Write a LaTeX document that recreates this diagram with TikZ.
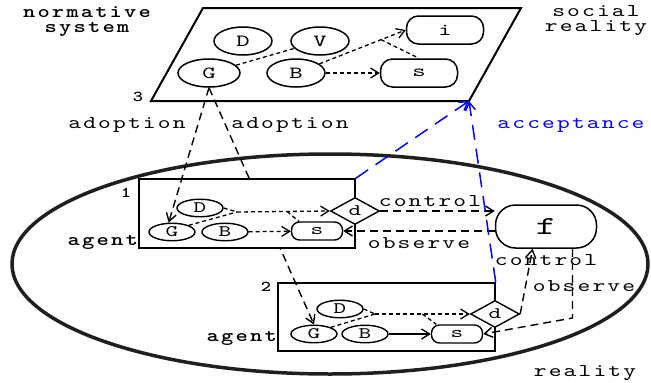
\documentclass[tikz,border=0pt]{standalone}
\usepackage{fontspec}
\newfontfamily\cour{lmmono10-regular}[Extension=.otf, FakeStretch=1.35, LetterSpace=12]
\newfontfamily\courbf{lmmonolt10-bold}[Extension=.otf, FakeStretch=1.3, LetterSpace=12]
\newfontfamily\courltr{lmmono10-regular}[Extension=.otf, FakeStretch=1.5]
\usetikzlibrary{shapes.geometric,arrows.meta,calc}
\begin{document}
\begin{tikzpicture}[x=1pt,y=-1pt,
  every node/.style={inner sep=0pt},
  txt/.style={font=\fontsize{18}{20}\cour, anchor=base},
  btxt/.style={font=\fontsize{18}{20}\courbf, anchor=base},
  twoline/.style={align=center, anchor=north},
  numtxt/.style={font=\fontsize{15}{17}\courbf, anchor=base},
  nstate/.style={ellipse, draw, line width=1.5pt, fill=white, minimum width=58pt, minimum height=28pt, font=\fontsize{17}{19}\courltr},
  astate/.style={ellipse, draw, line width=1.4pt, fill=white, minimum width=46pt, minimum height=17.5pt, font=\fontsize{16}{18}\courltr},
  fact/.style={draw, rounded corners=12pt, line width=1.5pt, fill=white, minimum width=77pt, minimum height=28pt, font=\fontsize{17}{19}\courltr},
  afact/.style={draw, rounded corners=8pt, line width=1.4pt, fill=white, minimum width=51pt, minimum height=18pt, font=\fontsize{16}{18}\courltr},
  decide/.style={diamond, draw, line width=1.4pt, fill=white, minimum width=49pt, minimum height=27pt, font=\fontsize{16}{18}\courltr},
  agentbox/.style={draw, line width=1.5pt, fill=white},
  arr/.style={-{Straight Barb[length=8pt,width=10pt]}},
  relation/.style={line width=1.4pt, dash pattern=on 8pt off 5pt},
  influence/.style={line width=1.3pt, dash pattern=on 4pt off 3pt},
  accept/.style={line width=1.5pt, blue, dash pattern=on 15pt off 9pt}
]
\useasboundingbox (0,0) rectangle (651,383);

% reality
\draw[line width=3.5pt, black!88] (330,264) ellipse [x radius=318, y radius=110];

% normative system (social reality)
\coordinate (pTL) at (203,8);
\coordinate (pTR) at (521,8);
\coordinate (pBR) at (469,101);
\coordinate (pBL) at (151,101);
\draw[line width=2pt] (pTL) -- (pTR) -- (pBR) -- (pBL) -- cycle;

\node[nstate] (nD) at (243,41) {D};
\node[nstate] (nV) at (320,41) {V};
\node[nstate, minimum width=62pt] (nG) at (209,73) {G};
\node[nstate] (nB) at (296,73) {B};
\node[fact] (ni) at (445,30) {i};
\node[fact] (ns) at (419,73) {s};

\draw[influence] (nG) -- (nV);
\draw[influence, arr] (nB) -- (ni.west);
\draw[influence] ($(nB)!0.775!(ni.west)$) -- (ns.north);
\draw[influence, arr] (nB) -- (ns);

% agent 2
\node[agentbox, minimum width=217pt, minimum height=68pt] (a2) at (386.5,317) {};
\node[astate] (D2) at (340,309) {D};
\node[astate] (G2) at (314,334) {G};
\node[astate] (B2) at (365,334) {B};
\node[afact] (s2) at (457,334) {s};
\node[decide] (d2) at (495,314) {d};
\coordinate (j2) at (375,314);
\draw[influence] (D2.east) -- (j2);
\draw[influence] (G2.north east) -- (j2);
\draw[influence, arr] (j2) -- (d2.west);
\draw[influence] ($(j2)!0.5!(d2.west)$) -- (s2.155);
\draw[line width=1.4pt, arr] (B2) -- (s2);

% adoption towards agent 2 (passes behind agent 1)
\draw[relation, arr] (nG.south) -- (G2.north);

% agent 1
\node[agentbox, minimum width=216pt, minimum height=69pt] (a1) at (247,213.5) {};
\node[astate] (D1) at (200,208) {D};
\node[astate] (G1) at (172,232) {G};
\node[astate] (B1) at (225,232) {B};
\node[afact] (s1) at (317,231) {s};
\node[decide] (d1) at (355,211) {d};
\coordinate (j1) at (237,212);
\draw[influence] (D1.east) -- (j1);
\draw[influence] (G1.north east) -- (j1);
\draw[influence, arr] (j1) -- (d1.west);
\draw[influence] ($(j1)!0.54!(d1.west)$) -- (s1.152);
\draw[influence, arr] (B1) -- (s1);

% adoption towards agent 1
\draw[relation, arr] (nG.south) -- (G1.110);

% the fact f
\node[draw, rounded corners=20pt, line width=1.5pt, fill=white, minimum width=101pt, minimum height=43pt, font=\fontsize{26}{28}\courltr] (f) at (546,226.5) {f};

\draw[relation, arr] (d1.east) -- (d1.east -| f.west);
\draw[relation, arr] (f.west |- s1.east) -- (s1.east);
\draw[relation, arr] (d2.east) -- (f.239);
\coordinate (obsBend) at (572,318);
\draw[relation, arr] (f.320) -- (f.320 |- obsBend) -- (s2.east);

% acceptance
\draw[accept, arr] (a1.north east) -- (pBR);
\draw[accept, arr] (a2.north east) -- (pBR);

% labels
\node[btxt, twoline, font=\fontsize{18}{15.5}\courbf] (tNorm) at (87,6) {normative\\system};
\node[txt, twoline, font=\fontsize{18}{15.5}\cour] (tSoc) at (596,5) {social\\reality};
\node[numtxt] (t3) at (138,101) {3};
\node[txt] (tAdL) at (127,128) {adoption};
\node[txt] (tAdR) at (290,128) {adoption};
\node[txt, blue] (tAcc) at (571,128) {acceptance};
\node[numtxt] (t1) at (126,197) {1};
\node[btxt, anchor=base east] (tAg1) at (138,245) {agent};
\node[numtxt] (t2) at (266,291) {2};
\node[btxt, anchor=base east] (tAg2) at (277,341) {agent};
\node[txt] (tCtl1) at (430,206) {control};
\node[txt] (tObs1) at (419,248) {observe};
\node[txt] (tCtl2) at (546,265) {control};
\node[txt] (tObs2) at (584,291) {observe};
\node[txt] (tReal) at (585,376) {reality};
\end{tikzpicture}
\end{document}
